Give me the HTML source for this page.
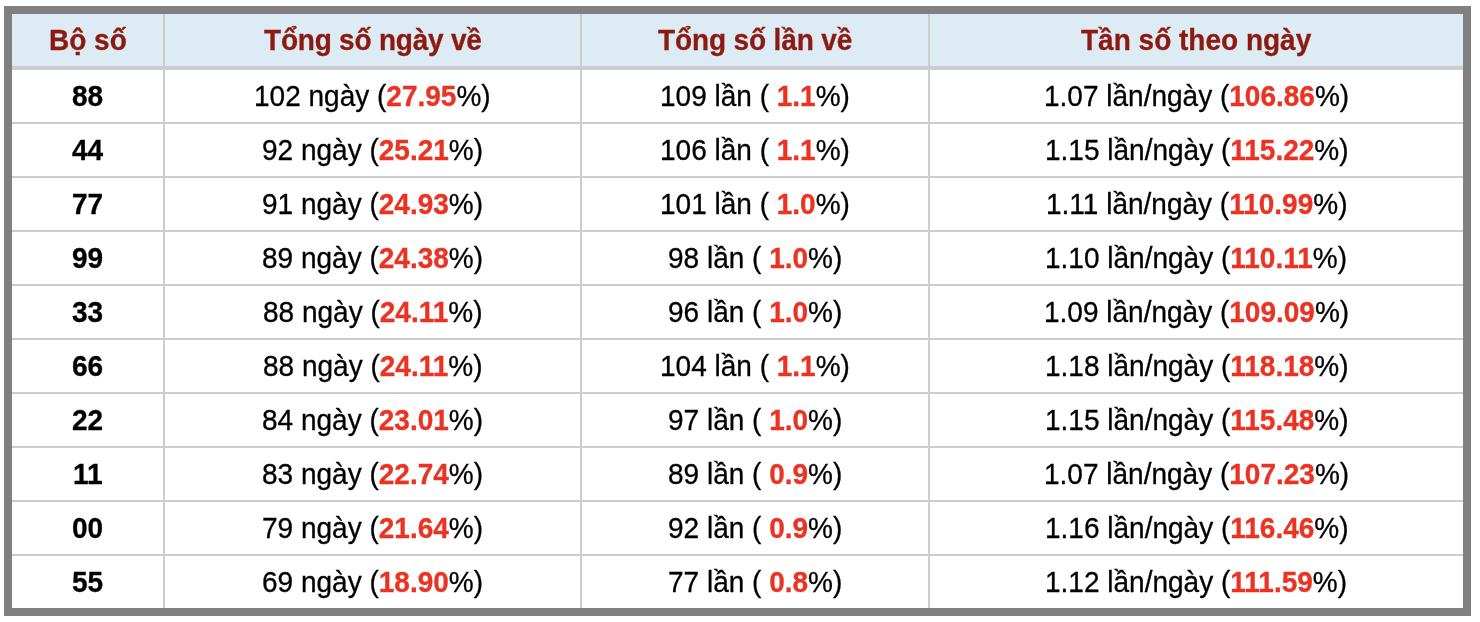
<!DOCTYPE html>
<html lang="vi"><head><meta charset="utf-8"><title>Thống kê bộ số</title>
<style>
html,body{margin:0;padding:0;background:#fff;}
body{width:1480px;height:622px;position:relative;overflow:hidden;font-family:"Liberation Sans",Arial,Helvetica,sans-serif;font-size:28px;color:#000;}
.box{position:absolute;left:4px;top:6px;width:1467px;height:610px;background:#808080;}
.in{position:absolute;left:12px;top:14px;width:1451px;height:594px;background:#fff;}
.hd{position:absolute;left:12px;top:14px;width:1451px;height:52px;background:#dcebf4;}
.hl{position:absolute;left:12px;width:1451px;height:2px;background:#ccc;}
.vl{position:absolute;top:14px;width:2px;height:594px;background:#ccc;}
.c{position:absolute;height:52px;line-height:52px;text-align:center;white-space:pre;}
.c>i{font-style:normal;-webkit-text-stroke:0.3px currentColor;display:inline-block;transform:scaleY(1.055) translateY(0.4px);will-change:transform;}
.h{font-weight:bold;color:#8c1a11;-webkit-text-stroke:0.3px #8c1a11;}
.b{font-weight:bold;}
.r{font-weight:bold;color:#ea3323;}
</style></head><body>
<div class="box"></div><div class="in"></div><div class="hd"></div>
<div class="hl" style="top:66px;height:4px"></div>
<div class="hl" style="top:122px"></div>
<div class="hl" style="top:176px"></div>
<div class="hl" style="top:230px"></div>
<div class="hl" style="top:284px"></div>
<div class="hl" style="top:338px"></div>
<div class="hl" style="top:392px"></div>
<div class="hl" style="top:446px"></div>
<div class="hl" style="top:500px"></div>
<div class="hl" style="top:554px"></div>
<div class="vl" style="left:163px"></div>
<div class="vl" style="left:580px"></div>
<div class="vl" style="left:928px"></div>
<div class="c h" style="left:12px;width:151px;top:14px"><i>Bộ số</i></div>
<div class="c h" style="left:165px;width:415px;top:14px"><i><span style="letter-spacing:-0.22px">Tổng số ngày về</span></i></div>
<div class="c h" style="left:582px;width:346px;top:14px"><i><span style="letter-spacing:-0.13px">Tổng số lần về</span></i></div>
<div class="c h" style="left:930px;width:533px;top:14px"><i>Tần số theo ngày</i></div>
<div class="c" style="left:12px;width:151px;top:70px"><i><span class="b">88</span></i></div>
<div class="c" style="left:165px;width:415px;top:70px"><i>102 ngày (<span class="r">27.95</span>%)</i></div>
<div class="c" style="left:582px;width:346px;top:70px"><i>109 lần (<span class="r"> 1.1</span>%)</i></div>
<div class="c" style="left:930px;width:533px;top:70px"><i>1.07 lần/ngày (<span class="r">106.86</span>%)</i></div>
<div class="c" style="left:12px;width:151px;top:124px"><i><span class="b">44</span></i></div>
<div class="c" style="left:165px;width:415px;top:124px"><i>92 ngày (<span class="r">25.21</span>%)</i></div>
<div class="c" style="left:582px;width:346px;top:124px"><i>106 lần (<span class="r"> 1.1</span>%)</i></div>
<div class="c" style="left:930px;width:533px;top:124px"><i>1.15 lần/ngày (<span class="r">115.22</span>%)</i></div>
<div class="c" style="left:12px;width:151px;top:178px"><i><span class="b">77</span></i></div>
<div class="c" style="left:165px;width:415px;top:178px"><i>91 ngày (<span class="r">24.93</span>%)</i></div>
<div class="c" style="left:582px;width:346px;top:178px"><i>101 lần (<span class="r"> 1.0</span>%)</i></div>
<div class="c" style="left:930px;width:533px;top:178px"><i>1.11 lần/ngày (<span class="r">110.99</span>%)</i></div>
<div class="c" style="left:12px;width:151px;top:232px"><i><span class="b">99</span></i></div>
<div class="c" style="left:165px;width:415px;top:232px"><i>89 ngày (<span class="r">24.38</span>%)</i></div>
<div class="c" style="left:582px;width:346px;top:232px"><i>98 lần (<span class="r"> 1.0</span>%)</i></div>
<div class="c" style="left:930px;width:533px;top:232px"><i>1.10 lần/ngày (<span class="r">110.11</span>%)</i></div>
<div class="c" style="left:12px;width:151px;top:286px"><i><span class="b">33</span></i></div>
<div class="c" style="left:165px;width:415px;top:286px"><i>88 ngày (<span class="r">24.11</span>%)</i></div>
<div class="c" style="left:582px;width:346px;top:286px"><i>96 lần (<span class="r"> 1.0</span>%)</i></div>
<div class="c" style="left:930px;width:533px;top:286px"><i>1.09 lần/ngày (<span class="r">109.09</span>%)</i></div>
<div class="c" style="left:12px;width:151px;top:340px"><i><span class="b">66</span></i></div>
<div class="c" style="left:165px;width:415px;top:340px"><i>88 ngày (<span class="r">24.11</span>%)</i></div>
<div class="c" style="left:582px;width:346px;top:340px"><i>104 lần (<span class="r"> 1.1</span>%)</i></div>
<div class="c" style="left:930px;width:533px;top:340px"><i>1.18 lần/ngày (<span class="r">118.18</span>%)</i></div>
<div class="c" style="left:12px;width:151px;top:394px"><i><span class="b">22</span></i></div>
<div class="c" style="left:165px;width:415px;top:394px"><i>84 ngày (<span class="r">23.01</span>%)</i></div>
<div class="c" style="left:582px;width:346px;top:394px"><i>97 lần (<span class="r"> 1.0</span>%)</i></div>
<div class="c" style="left:930px;width:533px;top:394px"><i>1.15 lần/ngày (<span class="r">115.48</span>%)</i></div>
<div class="c" style="left:12px;width:151px;top:448px"><i><span class="b">11</span></i></div>
<div class="c" style="left:165px;width:415px;top:448px"><i>83 ngày (<span class="r">22.74</span>%)</i></div>
<div class="c" style="left:582px;width:346px;top:448px"><i>89 lần (<span class="r"> 0.9</span>%)</i></div>
<div class="c" style="left:930px;width:533px;top:448px"><i>1.07 lần/ngày (<span class="r">107.23</span>%)</i></div>
<div class="c" style="left:12px;width:151px;top:502px"><i><span class="b">00</span></i></div>
<div class="c" style="left:165px;width:415px;top:502px"><i>79 ngày (<span class="r">21.64</span>%)</i></div>
<div class="c" style="left:582px;width:346px;top:502px"><i>92 lần (<span class="r"> 0.9</span>%)</i></div>
<div class="c" style="left:930px;width:533px;top:502px"><i>1.16 lần/ngày (<span class="r">116.46</span>%)</i></div>
<div class="c" style="left:12px;width:151px;top:556px"><i><span class="b">55</span></i></div>
<div class="c" style="left:165px;width:415px;top:556px"><i>69 ngày (<span class="r">18.90</span>%)</i></div>
<div class="c" style="left:582px;width:346px;top:556px"><i>77 lần (<span class="r"> 0.8</span>%)</i></div>
<div class="c" style="left:930px;width:533px;top:556px"><i>1.12 lần/ngày (<span class="r">111.59</span>%)</i></div>
</body></html>
